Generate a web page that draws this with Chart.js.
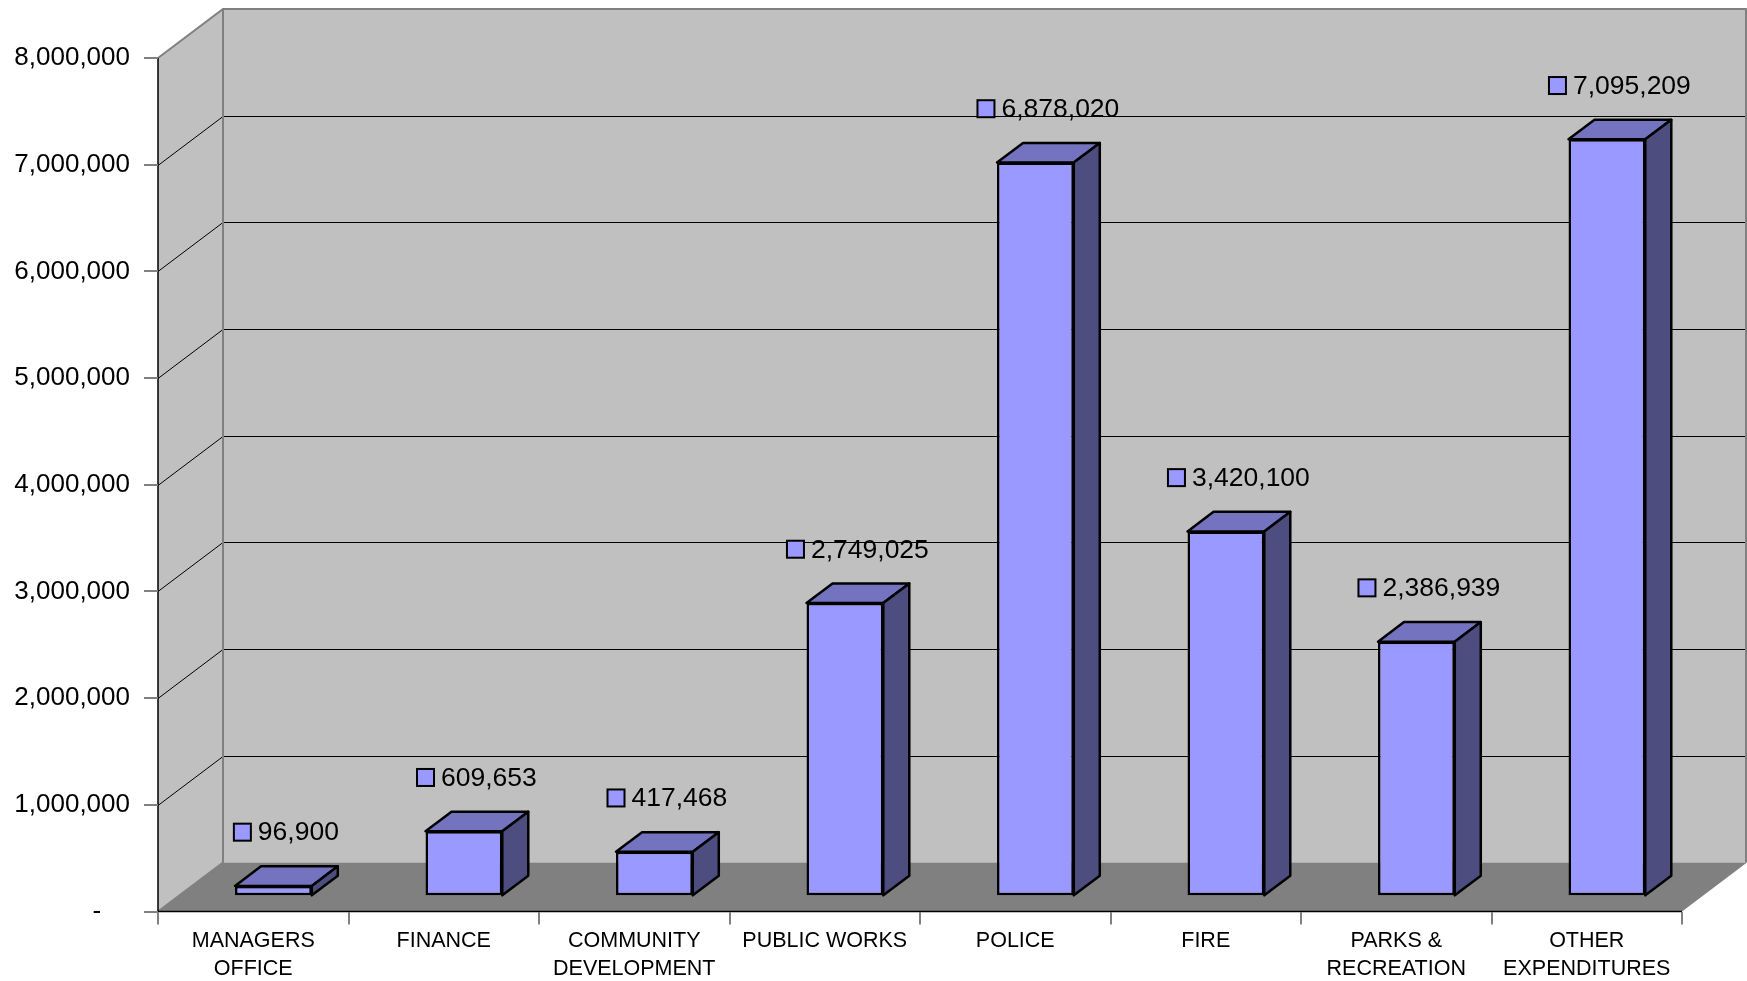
<!DOCTYPE html>
<html>
<head>
<meta charset="utf-8">
<script src="https://cdn.jsdelivr.net/npm/chart.js@4/dist/chart.umd.min.js"></script>
<style>
  html, body { margin: 0; padding: 0; background: #ffffff; }
  #wrap { width: 1747px; height: 981px; }
</style>
</head>
<body>
<div id="wrap"><canvas id="c" width="1747" height="981"></canvas></div>
<script>
// Departments along the floor
const categories = [
  ['MANAGERS', 'OFFICE'],
  ['FINANCE'],
  ['COMMUNITY', 'DEVELOPMENT'],
  ['PUBLIC WORKS'],
  ['POLICE'],
  ['FIRE'],
  ['PARKS &', 'RECREATION'],
  ['OTHER', 'EXPENDITURES']
];

// Expenditure per department
const expenditures = [96900, 609653, 417468, 2749025, 6878020, 3420100, 2386939, 7095209];

// Value axis
const axisMin = 0;
const axisMax = 8000000;
const axisStep = 1000000;

// Oblique depth of the box (px) and where the bars sit inside it
const DEPTH_X = 65, DEPTH_Y = 49;
const BAR_FRONT = 0.31, BAR_DEPTH = 0.40;

const FONT = "'Liberation Sans', Arial, sans-serif";
const WALL = '#c0c0c0', FLOOR = '#808080', EDGE = '#808080';
const BAR_FACE = '#9999ff', BAR_TOP = '#7373bf', BAR_SIDE = '#4d4d80';

function fmt(v) {
  return v.toLocaleString('en-US');
}

// Walls, floor and gridlines of the 3D box
const boxPlugin = {
  id: 'box3d',
  beforeDraw(chart) {
    const ctx = chart.ctx;
    const a = chart.chartArea;
    const y = chart.scales.y;
    const L = a.left, R = a.right, T = y.getPixelForValue(axisMax), B = y.getPixelForValue(axisMin);
    ctx.save();
    // back wall
    ctx.fillStyle = WALL;
    ctx.fillRect(L + DEPTH_X, T - DEPTH_Y, R - L, B - T);
    // left wall
    ctx.beginPath();
    ctx.moveTo(L, T); ctx.lineTo(L + DEPTH_X, T - DEPTH_Y);
    ctx.lineTo(L + DEPTH_X, B - DEPTH_Y); ctx.lineTo(L, B);
    ctx.closePath(); ctx.fill();
    // floor
    ctx.fillStyle = FLOOR;
    ctx.beginPath();
    ctx.moveTo(L, B); ctx.lineTo(R, B);
    ctx.lineTo(R + DEPTH_X, B - DEPTH_Y); ctx.lineTo(L + DEPTH_X, B - DEPTH_Y);
    ctx.closePath(); ctx.fill();
    // gridlines
    ctx.strokeStyle = '#000000';
    ctx.lineWidth = 1;
    for (let v = axisMin + axisStep; v < axisMax; v += axisStep) {
      const py = Math.round(y.getPixelForValue(v)) + 0.5;
      ctx.beginPath();
      ctx.moveTo(L, py);
      ctx.lineTo(L + DEPTH_X, py - DEPTH_Y);
      ctx.lineTo(R + DEPTH_X, py - DEPTH_Y);
      ctx.stroke();
    }
    // box edges
    ctx.strokeStyle = EDGE;
    ctx.lineWidth = 2;
    ctx.beginPath();
    ctx.moveTo(L, T); ctx.lineTo(L + DEPTH_X, T - DEPTH_Y); ctx.lineTo(R + DEPTH_X, T - DEPTH_Y);
    ctx.moveTo(L + DEPTH_X, T - DEPTH_Y); ctx.lineTo(L + DEPTH_X, B - DEPTH_Y); ctx.lineTo(L, B);
    ctx.moveTo(R + DEPTH_X - 1, T - DEPTH_Y); ctx.lineTo(R + DEPTH_X - 1, B - DEPTH_Y);
    ctx.stroke();
    // front axis lines
    ctx.strokeStyle = '#000000';
    ctx.lineWidth = 1.5;
    ctx.beginPath();
    ctx.moveTo(L, T); ctx.lineTo(L, B); ctx.lineTo(R, B);
    ctx.stroke();
    ctx.restore();
  },
  beforeDatasetsDraw(chart) {
    const ctx = chart.ctx;
    ctx.save();
    ctx.translate(DEPTH_X * BAR_FRONT, -DEPTH_Y * BAR_FRONT);
  },
  afterDatasetsDraw(chart) {
    const ctx = chart.ctx;
    const dx = DEPTH_X * BAR_DEPTH, dy = DEPTH_Y * BAR_DEPTH;
    const meta = chart.getDatasetMeta(0);
    ctx.lineWidth = 2.5;
    ctx.strokeStyle = '#000000';
    ctx.lineJoin = 'round';
    meta.data.forEach(el => {
      const p = el.getProps(['x', 'y', 'base', 'width'], true);
      const l = p.x - p.width / 2, r = p.x + p.width / 2;
      // top face
      ctx.fillStyle = BAR_TOP;
      ctx.beginPath();
      ctx.moveTo(l, p.y); ctx.lineTo(r, p.y);
      ctx.lineTo(r + dx, p.y - dy); ctx.lineTo(l + dx, p.y - dy);
      ctx.closePath(); ctx.fill(); ctx.stroke();
      // side face
      ctx.fillStyle = BAR_SIDE;
      ctx.beginPath();
      ctx.moveTo(r, p.y); ctx.lineTo(r + dx, p.y - dy);
      ctx.lineTo(r + dx, p.base - dy); ctx.lineTo(r, p.base);
      ctx.closePath(); ctx.fill(); ctx.stroke();
    });
    ctx.restore();
  },
  afterDraw(chart) {
    // value labels above each bar
    const ctx = chart.ctx;
    const meta = chart.getDatasetMeta(0);
    const ox = DEPTH_X * BAR_FRONT + DEPTH_X * BAR_DEPTH / 2;
    const oy = -DEPTH_Y * BAR_FRONT - DEPTH_Y * BAR_DEPTH / 2;
    ctx.save();
    ctx.font = '26.5px ' + FONT;
    ctx.textBaseline = 'middle';
    ctx.textAlign = 'left';
    meta.data.forEach((el, i) => {
      const p = el.getProps(['x', 'y'], true);
      const text = fmt(expenditures[i]);
      const sq = 17, gap = 7;
      const tw = ctx.measureText(text).width;
      const total = sq + gap + tw;
      const cx = p.x + ox, cy = p.y + oy - 44;
      const left = cx - total / 2;
      ctx.fillStyle = BAR_FACE;
      ctx.strokeStyle = '#000000';
      ctx.lineWidth = 2;
      ctx.fillRect(left, cy - sq / 2, sq, sq);
      ctx.strokeRect(left, cy - sq / 2, sq, sq);
      ctx.fillStyle = '#000000';
      ctx.fillText(text, left + sq + gap, cy + 1);
    });
    ctx.restore();
  }
};

new Chart(document.getElementById('c'), {
  type: 'bar',
  data: {
    labels: categories,
    datasets: [{
      data: expenditures,
      backgroundColor: BAR_FACE,
      borderColor: '#000000',
      borderWidth: 2.5,
      borderSkipped: false,
      barPercentage: 0.403,
      categoryPercentage: 1.0,
      clip: false
    }]
  },
  options: {
    responsive: false,
    devicePixelRatio: 1,
    animation: false,
    layout: { padding: { top: 58, right: 65, left: 0, bottom: 0 } },
    plugins: {
      legend: { display: false },
      tooltip: { enabled: false },
      title: { display: false }
    },
    scales: {
      x: {
        grid: {
          offset: true,
          drawOnChartArea: false,
          drawTicks: true,
          tickLength: 13,
          color: '#808080',
          lineWidth: 2
        },
        border: { display: false },
        ticks: {
          color: '#000000',
          font: { family: FONT, size: 21.5, lineHeight: 1.28 },
          padding: 3,
          maxRotation: 0,
          autoSkip: false
        },
        afterFit(scale) { scale.height = 69.5; }
      },
      y: {
        min: axisMin,
        max: axisMax,
        grid: {
          drawOnChartArea: false,
          drawTicks: true,
          tickLength: 14,
          color: '#808080',
          lineWidth: 2
        },
        border: { display: false },
        ticks: {
          stepSize: axisStep,
          color: '#000000',
          font: { family: FONT, size: 26 },
          padding: 14,
          callback: v => v === 0 ? '-    ' : fmt(v)
        },
        afterFit(scale) { scale.width = 158; }
      }
    }
  },
  plugins: [boxPlugin]
});
</script>
</body>
</html>
